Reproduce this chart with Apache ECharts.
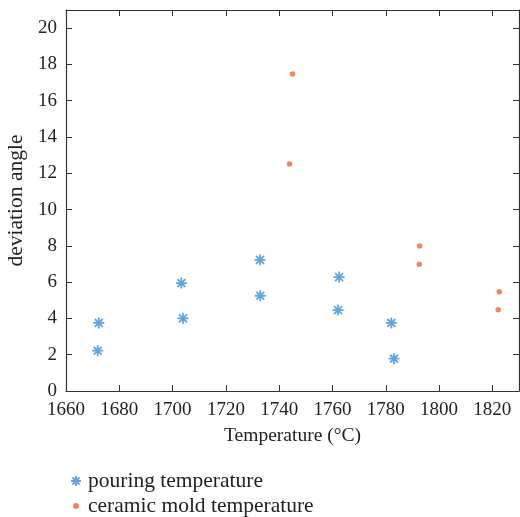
<!DOCTYPE html>
<html>
<head>
<meta charset="utf-8">
<script src="https://cdn.jsdelivr.net/npm/echarts@6/dist/echarts.min.js"></script>
<style>
  html, body { margin: 0; padding: 0; background: #fff; }
  #main { width: 520px; height: 517px; }
</style>
</head>
<body>
<div id="main"></div>
<script>
var pouringX = [1672.3, 1671.9, 1703.3, 1703.9, 1732.8, 1732.9, 1762.5, 1762.1, 1782.1, 1783.1];
var pouringY = [3.75, 2.22, 5.95, 4.0, 7.23, 5.25, 6.28, 4.46, 3.75, 1.78];
var moldX = [1745.0, 1743.9, 1792.7, 1792.6, 1822.6, 1822.2];
var moldY = [17.47, 12.51, 7.99, 6.98, 5.47, 4.48];
var seriesNames = ['pouring temperature', 'ceramic mold temperature'];

var font = '"Liberation Serif", "DejaVu Serif", serif';
var axisColor = '#333';
var blue = '#3a8fd6';
var orange = '#e8683a';
var star = 'path://M0,-5L0,5M-5,0L5,0M-3.6,-3.6L3.6,3.6M-3.6,3.6L3.6,-3.6';

function pairs(xs, ys) {
  var out = [];
  for (let i = 0; i < xs.length; i++) {
    out.push([xs[i], ys[i]]);
  }
  return out;
}

var myChart = echarts.init(document.getElementById('main'));

var xCommon = {
  type: 'value', min: 1660, max: 1830, interval: 20,
  axisLine: { show: true, onZero: false, lineStyle: { color: axisColor, width: 1.2 } },
  axisTick: { show: true, inside: true, length: 6, lineStyle: { color: axisColor } },
  splitLine: { show: false }
};
var yCommon = {
  type: 'value', min: 0, max: 21, interval: 2,
  axisLine: { show: true, onZero: false, lineStyle: { color: axisColor, width: 1.2 } },
  axisTick: { show: true, inside: true, length: 6, lineStyle: { color: axisColor } },
  splitLine: { show: false }
};

var legendText = { fontFamily: font, fontSize: 21.5, color: '#222' };

var option = {
  animation: false,
  textStyle: { fontFamily: font },
  grid: { left: 66, right: 1, top: 10, bottom: 126, outerBoundsMode: 'none' },
  legend: [
    {
      left: 65, top: 465,
      itemWidth: 14, itemHeight: 10, itemGap: 6,
      textStyle: legendText,
      data: [{ name: seriesNames[0], icon: star }]
    },
    {
      left: 68, top: 490,
      itemWidth: 14, itemHeight: 6, itemGap: 6,
      textStyle: legendText,
      data: [{ name: seriesNames[1], icon: 'circle' }]
    }
  ],
  xAxis: [
    Object.assign({}, xCommon, {
      position: 'bottom',
      name: 'Temperature (°C)',
      nameLocation: 'middle',
      nameGap: 35,
      nameTextStyle: { fontFamily: font, fontSize: 19.5, color: '#222' },
      axisLabel: {
        fontFamily: font, fontSize: 19, color: '#222', margin: 10,
        formatter: function (v) { return v % 20 === 0 ? v : ''; }
      }
    }),
    Object.assign({}, xCommon, { position: 'top', axisLabel: { show: false } })
  ],
  yAxis: [
    Object.assign({}, yCommon, {
      position: 'left',
      name: 'deviation angle',
      nameLocation: 'middle',
      nameGap: 34,
      nameTextStyle: { fontFamily: font, fontSize: 21.5, color: '#222' },
      axisLabel: {
        fontFamily: font, fontSize: 19, color: '#222', margin: 9,
        formatter: function (v) { return v % 2 === 0 ? v : ''; }
      }
    }),
    Object.assign({}, yCommon, { position: 'right', axisLabel: { show: false } })
  ],
  series: [
    {
      name: seriesNames[0],
      type: 'scatter',
      symbol: star,
      symbolSize: 11,
      itemStyle: { color: 'rgba(0,0,0,0)', borderColor: blue, borderWidth: 1.8 },
      data: pairs(pouringX, pouringY)
    },
    {
      name: seriesNames[1],
      type: 'scatter',
      symbol: 'circle',
      symbolSize: 5.5,
      itemStyle: { color: orange },
      data: pairs(moldX, moldY)
    }
  ]
};

myChart.setOption(option);
</script>
</body>
</html>
